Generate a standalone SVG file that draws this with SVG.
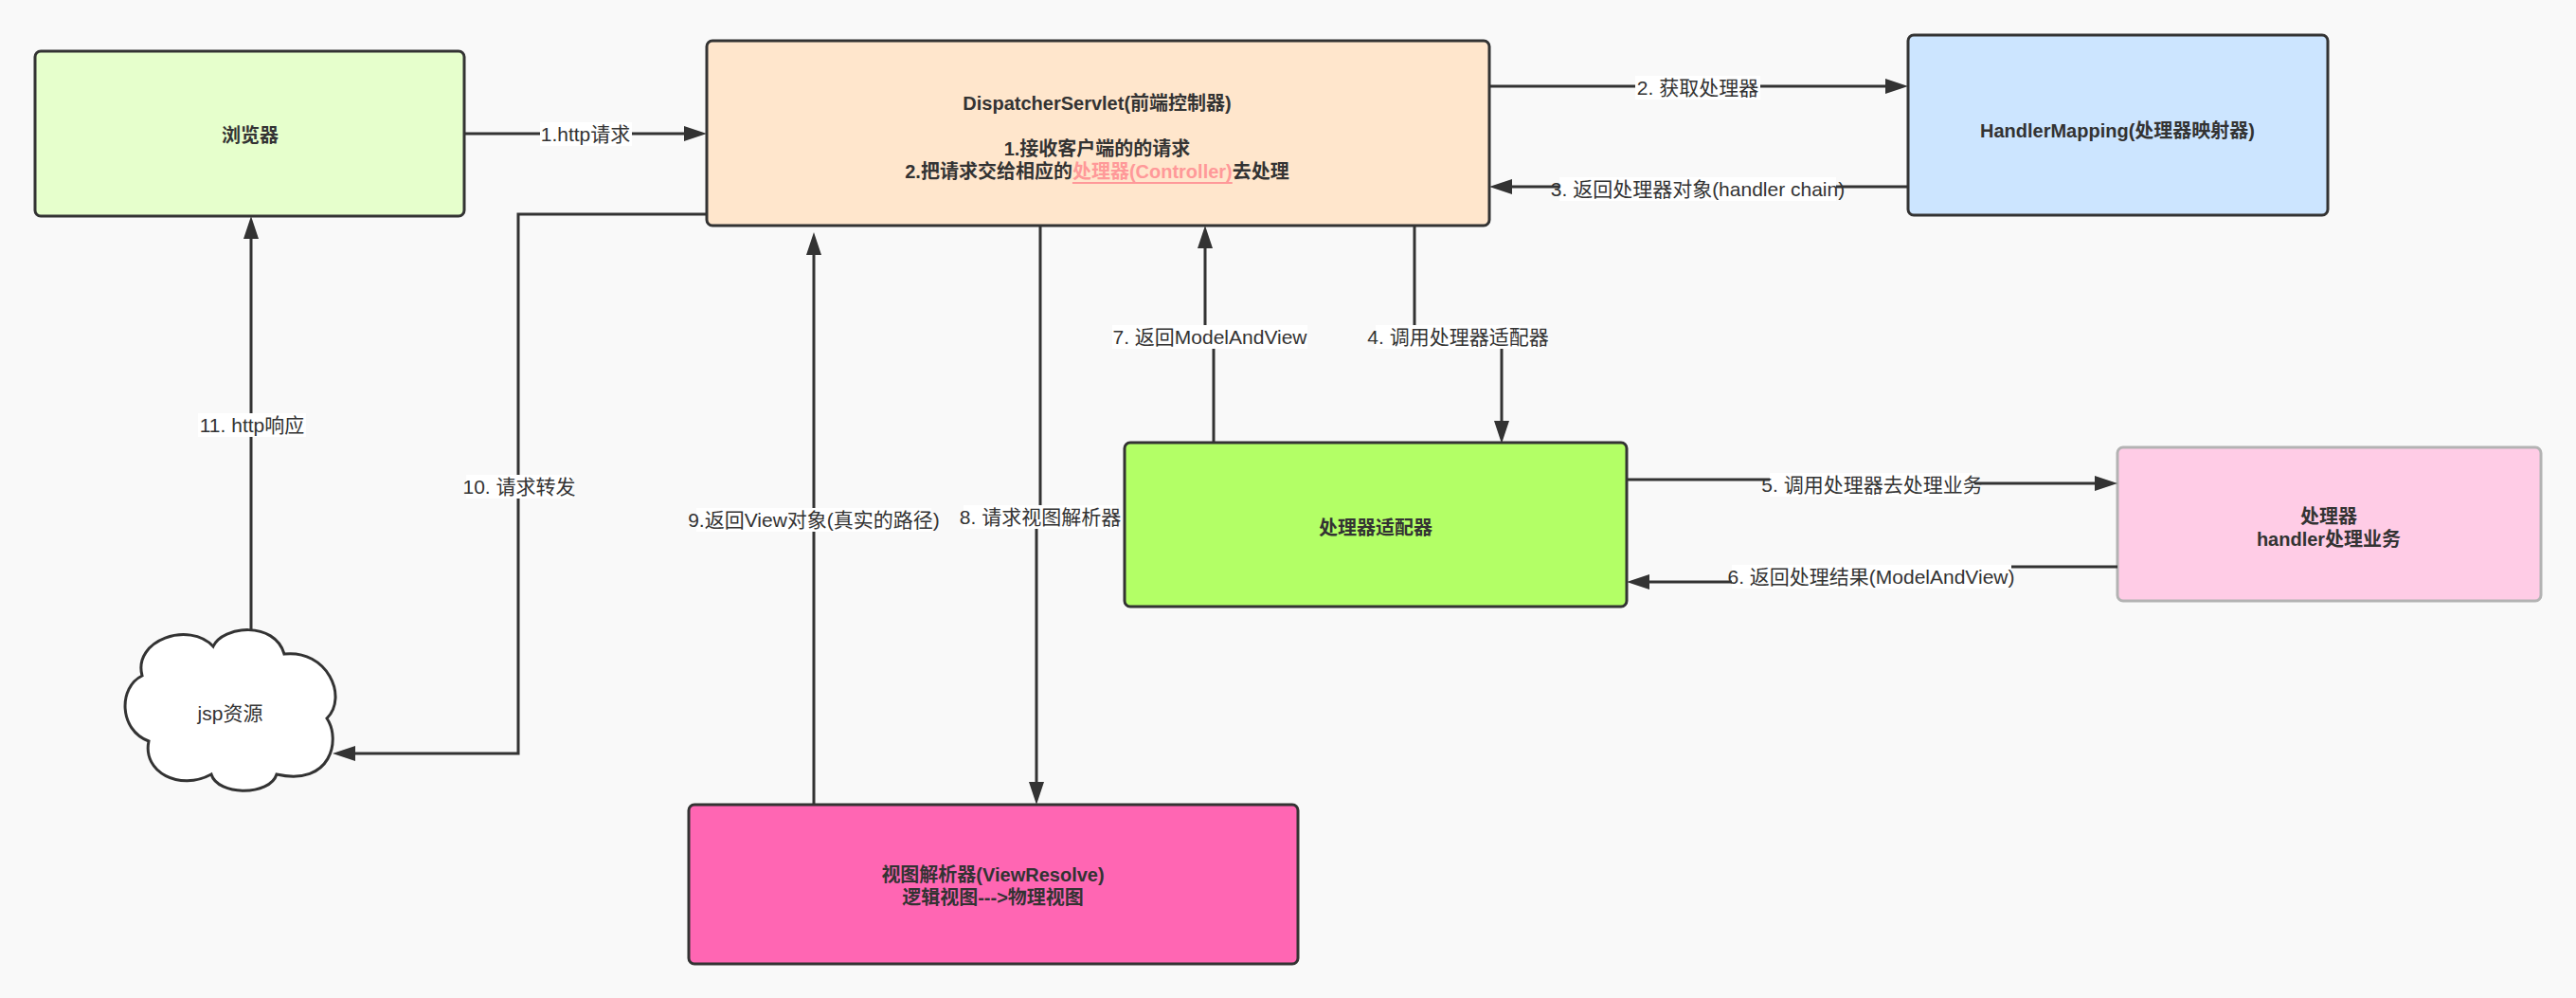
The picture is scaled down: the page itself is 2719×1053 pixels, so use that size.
<svg xmlns="http://www.w3.org/2000/svg" width="2719" height="1053" viewBox="0 0 2719 1053">
<style>
.node{stroke:#333333;stroke-width:3}
.t{font-family:"Liberation Sans","Noto Sans CJK SC",sans-serif;font-size:20px;font-weight:bold;fill:#333333;text-anchor:middle;dominant-baseline:central}
.lt{font-family:"Liberation Sans","Noto Sans CJK SC",sans-serif;font-size:21px;fill:#333333;text-anchor:middle;dominant-baseline:central}
.edge{fill:none;stroke:#333333;stroke-width:3}
.lbg{fill:#ffffff}
</style>
<defs>
<marker id="arr" markerUnits="userSpaceOnUse" markerWidth="24" markerHeight="16" refX="18" refY="8" orient="auto">
<path d="M0,0 L24,8 L0,16 Z" fill="#333333"/>
</marker>
</defs>
<rect x="0" y="0" width="2719" height="1053" fill="#f9f9f9"/>

<g id="browser">
<rect class="node" x="37" y="54" width="453" height="174" rx="6" fill="#E6FFCC"/>
<text class="t" x="264" y="143">浏览器</text>
</g>

<g id="dispatcher">
<rect class="node" x="746" y="43" width="826" height="195" rx="6" fill="#FFE6CC"/>
<text class="t" x="1158" y="109">DispatcherServlet(前端控制器)</text>
<text class="t" x="1158" y="157">1.接收客户端的的请求</text>
<text class="t" x="1158" y="181">2.把请求交给相应的<tspan fill="#FF9999" text-decoration="underline">处理器(Controller)</tspan>去处理</text>
</g>

<g id="handlermapping">
<rect class="node" x="2014" y="37" width="443" height="190" rx="6" fill="#CCE5FF"/>
<text class="t" x="2235" y="138">HandlerMapping(处理器映射器)</text>
</g>

<g id="adapter">
<rect class="node" x="1187" y="467" width="530" height="173" rx="6" fill="#B3FF66"/>
<text class="t" x="1452" y="557">处理器适配器</text>
</g>

<g id="handler">
<rect x="2235" y="472" width="447" height="162" rx="6" fill="#FFCCE6" stroke="#B3B3B3" stroke-width="3"/>
<text class="t" x="2458" y="545">处理器</text>
<text class="t" x="2458" y="569">handler处理业务</text>
</g>

<g id="viewresolver">
<rect class="node" x="727" y="849" width="643" height="168" rx="6" fill="#FF66B3"/>
<text class="t" x="1048" y="923">视图解析器(ViewResolve)</text>
<text class="t" x="1048" y="947">逻辑视图---&gt;物理视图</text>
</g>

<g id="jsp">
<path class="node" fill="#ffffff" d="M150,713 C140,675 200,655 225,682 C235,660 290,655 300,690 C345,685 368,735 345,758 C360,780 350,830 292,817 C285,840 230,840 223,817 C190,835 150,815 157,782 C125,770 125,725 150,713 Z"/>
<text class="lt" x="243" y="752">jsp资源</text>
</g>

<g id="connectors">
<path class="edge" marker-end="url(#arr)" d="M490,141 H740"/>
<path class="edge" marker-end="url(#arr)" d="M1572,91 H2008"/>
<path class="edge" marker-end="url(#arr)" d="M2014,197 H1578"/>
<path class="edge" marker-end="url(#arr)" d="M1493,238 V355 H1585 V462"/>
<path class="edge" marker-end="url(#arr)" d="M1717,506 H1976 V510 H2229"/>
<path class="edge" marker-end="url(#arr)" d="M2235,598 H1975 V614 H1723"/>
<path class="edge" marker-end="url(#arr)" d="M1281,467 V355 H1272 V244"/>
<path class="edge" marker-end="url(#arr)" d="M1098,238 V545 H1094 V843"/>
<path class="edge" marker-end="url(#arr)" d="M859,849 V251"/>
<path class="edge" marker-end="url(#arr)" d="M746,226 H547 V795 H357"/>
<path class="edge" marker-end="url(#arr)" d="M265,665 V234"/>

<g id="label1"><rect class="lbg" x="570" y="129" width="97" height="25"/><text class="lt" x="618" y="141">1.http请求</text></g>
<g id="label2"><rect class="lbg" x="1726" y="80" width="132" height="25"/><text class="lt" x="1792" y="92">2. 获取处理器</text></g>
<g id="label3"><rect class="lbg" x="1646" y="187" width="292" height="25"/><text class="lt" x="1792" y="199">3. 返回处理器对象(handler chain)</text></g>
<g id="label4"><rect class="lbg" x="1452" y="343" width="175" height="25"/><text class="lt" x="1539" y="355">4. 调用处理器适配器</text></g>
<g id="label5"><rect class="lbg" x="1868" y="499" width="216" height="25"/><text class="lt" x="1976" y="511">5. 调用处理器去处理业务</text></g>
<g id="label6"><rect class="lbg" x="1828" y="596" width="295" height="25"/><text class="lt" x="1975" y="608">6. 返回处理结果(ModelAndView)</text></g>
<g id="label7"><rect class="lbg" x="1174" y="343" width="206" height="25"/><text class="lt" x="1277" y="355">7. 返回ModelAndView</text></g>
<g id="label8"><rect class="lbg" x="1017" y="533" width="162" height="25"/><text class="lt" x="1098" y="545">8. 请求视图解析器</text></g>
<g id="label9"><rect class="lbg" x="735" y="536" width="248" height="25"/><text class="lt" x="859" y="548">9.返回View对象(真实的路径)</text></g>
<g id="label10"><rect class="lbg" x="492" y="501" width="112" height="25"/><text class="lt" x="548" y="513">10. 请求转发</text></g>
<g id="label11"><rect class="lbg" x="209" y="436" width="114" height="25"/><text class="lt" x="266" y="448">11. http响应</text></g>
</g>
</svg>
